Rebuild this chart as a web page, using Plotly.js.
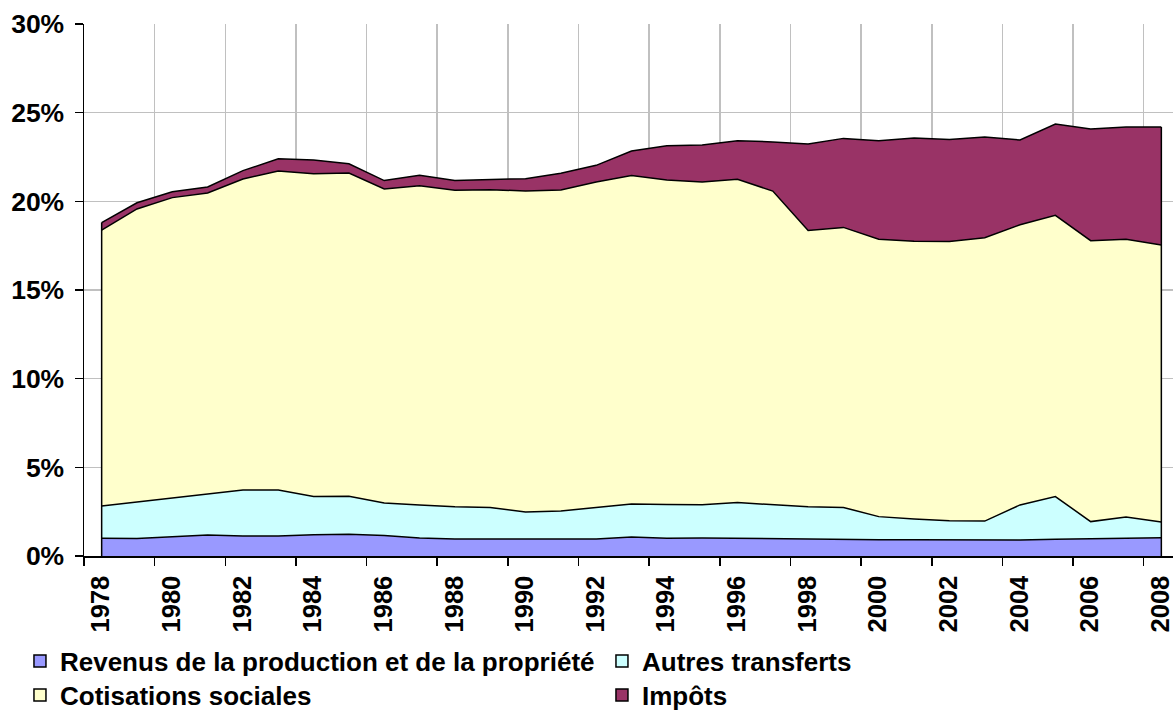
<!DOCTYPE html>
<html>
<head>
<meta charset="utf-8">
<script src="https://cdn.plot.ly/plotly-3.0.1.min.js"></script>
<style>html,body{margin:0;padding:0;background:#fff;}#chart{width:1173px;height:713px;}</style>
</head>
<body>
<div id="chart"></div>
<script>
// Years
const years = [1978,1979,1980,1981,1982,1983,1984,1985,1986,1987,1988,1989,1990,1991,1992,1993,1994,1995,1996,1997,1998,1999,2000,2001,2002,2003,2004,2005,2006,2007,2008];
// Series values (% of the total), stacked in this order
const revenus = [1.00,0.98,1.09,1.18,1.13,1.13,1.20,1.22,1.15,1.02,0.96,0.94,0.96,0.96,0.96,1.07,1.00,1.02,1.00,0.98,0.94,0.90,0.92,0.92,0.90,0.90,0.90,0.94,0.98,1.00,1.03];
const autres = [1.82,2.07,2.16,2.32,2.59,2.59,2.15,2.15,1.84,1.86,1.82,1.79,1.52,1.58,1.77,1.86,1.91,1.87,2.01,1.91,1.84,1.84,1.30,1.17,1.09,1.07,1.98,2.41,0.96,1.20,0.89];
const cotisations = [15.56,16.52,16.96,16.97,17.54,17.99,18.21,18.23,17.71,18.00,17.84,17.93,18.10,18.10,18.36,18.52,18.29,18.20,18.23,17.69,15.57,15.79,15.64,15.66,15.74,15.98,15.80,15.86,15.84,15.66,15.62];
const impots = [0.42,0.35,0.33,0.34,0.47,0.69,0.77,0.52,0.47,0.59,0.55,0.56,0.70,0.94,0.94,1.39,1.94,2.09,2.18,2.77,4.88,5.02,5.56,5.82,5.75,5.68,4.78,5.15,6.30,6.33,6.65];
// Tick labels
const xTickLabels = ['1978','1980','1982','1984','1986','1988','1990','1992','1994','1996','1998','2000','2002','2004','2006','2008'];
const yTicks = [0,5,10,15,20,25,30];
const yTickLabels = ['0%','5%','10%','15%','20%','25%','30%'];

const names = ['Revenus de la production et de la propriété','Autres transferts','Cotisations sociales','Impôts'];
const colors = ['#9999FF','#CCFFFF','#FFFFCC','#993366'];
const series = [revenus, autres, cotisations, impots];

const FONT = '"Liberation Sans", Arial, sans-serif';

const traces = [];
series.forEach((s, i) => {
  traces.push({
    type: 'scatter', mode: 'lines', x: years, y: s, stackgroup: 'one',
    fillcolor: colors[i], line: {color: '#000', width: 1.5, shape: 'linear'},
    name: names[i], showlegend: false, hoverinfo: 'skip'
  });
});
// legend proxies (no drawn bar, only for square legend symbols)
series.forEach((s, i) => {
  traces.push({
    type: 'bar', x: [null], y: [null], name: names[i],
    marker: {color: colors[i], line: {color: '#000', width: 1.5}},
    legend: (i === 0 || i === 1) ? 'legend' : 'legend2',
    showlegend: true, hoverinfo: 'skip'
  });
});

const totals = years.map((_, k) => series.reduce((a, s) => a + s[k], 0));
const last = years.length - 1;

const tickvals = xTickLabels.map(t => Number(t) - 0.5);

const legendCommon = {
  orientation: 'h', xanchor: 'left', yanchor: 'middle', x: -0.0588,
  traceorder: 'normal',
  entrywidth: 537, entrywidthmode: 'pixels',
  font: {family: FONT, size: 26, color: '#000', weight: 'bold'},
  bgcolor: 'rgba(0,0,0,0)', borderwidth: 0, itemclick: false
};

const layout = {
  width: 1173, height: 713,
  margin: {l: 84, r: 0, t: 24, b: 157, autoexpand: false},
  paper_bgcolor: '#fff', plot_bgcolor: '#fff',
  showlegend: true,
  legend: Object.assign({}, legendCommon, {y: -0.1974}),
  legend2: Object.assign({}, legendCommon, {y: -0.2613}),
  xaxis: {
    range: [1977.5, 2008.33], tickmode: 'array', tickvals: tickvals, ticktext: xTickLabels,
    tickangle: -90, ticklabelshift: 17, ticklabeloverflow: 'allow',
    ticks: 'outside', ticklen: 8, tickwidth: 1.5, tickcolor: '#000',
    showgrid: true, gridcolor: '#c0c0c0', gridwidth: 1.5,
    showline: true, linecolor: '#000', linewidth: 1.5, zeroline: false,
    tickfont: {family: FONT, size: 25.5, color: '#000', weight: 'bold'},
    fixedrange: true
  },
  yaxis: {
    range: [0, 30], tickmode: 'array', tickvals: yTicks, ticktext: yTickLabels,
    ticks: 'outside', ticklen: 8, tickwidth: 1.5, tickcolor: '#000', ticklabelstandoff: 5,
    showgrid: true, gridcolor: '#c0c0c0', gridwidth: 1.5,
    showline: true, linecolor: '#000', linewidth: 1.5, zeroline: false,
    tickfont: {family: FONT, size: 26.5, color: '#000', weight: 'bold'},
    fixedrange: true
  },
  shapes: [
    {type: 'line', xref: 'x', yref: 'y', x0: years[0], x1: years[0], y0: 0, y1: totals[0], line: {color: '#000', width: 1.5}},
    {type: 'line', xref: 'x', yref: 'y', x0: years[last], x1: years[last], y0: 0, y1: totals[last], line: {color: '#000', width: 1.5}}
  ]
};

Plotly.newPlot('chart', traces, layout, {displayModeBar: false, staticPlot: true});
</script>
</body>
</html>
